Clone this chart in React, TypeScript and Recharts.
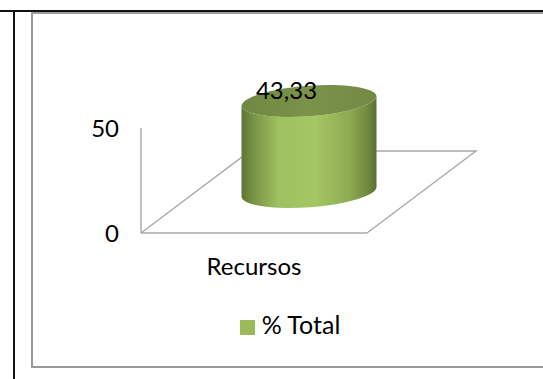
import { Bar, BarChart, LabelList, Legend, usePlotArea, XAxis, YAxis } from 'recharts'

const categories = ['Recursos']
const totals = [43.33]
const yTicks = [0, 50]
const seriesName = '% Total'

const chartData = categories.map((name, i) => ({ name, total: totals[i] }))

const FONT = 'Lato, "Open Sans", sans-serif'
const AXIS_GREY = '#a8a8a8'

// floor of the fake 3D box, measured from the front edge
const DEPTH_X = 109
const DEPTH_Y = 82

// the cylinder stands in the middle of the floor, its caps tilted slightly
const TILT_DEG = -4.2
const CAP_RX = 67.7
const CAP_RY = 15.6
const CAP_LIFT = 5

function Floor() {
  const plot = usePlotArea()
  if (!plot) return null
  const left = plot.x
  const right = plot.x + plot.width
  const base = plot.y + plot.height
  const back = base - DEPTH_Y
  const points = [
    [left, base],
    [left + DEPTH_X, back],
    [right + DEPTH_X, back],
    [right, base],
  ]
  return (
    <polyline
      points={points.map((p) => p.join(',')).join(' ')}
      fill="none"
      stroke={AXIS_GREY}
      strokeWidth={1.4}
    />
  )
}

function Cylinder({ x, y, width, height }: any) {
  const cx = x + width / 2 + DEPTH_X / 2
  const top = y - DEPTH_Y / 2
  const bottom = top + height
  const l = cx - width / 2
  const r = cx + width / 2
  const arc = `A ${CAP_RX} ${CAP_RY} ${TILT_DEG}`
  const side = [
    `M ${l} ${top + CAP_LIFT}`,
    `L ${l} ${bottom + CAP_LIFT}`,
    `${arc} 0 0 ${r} ${bottom - CAP_LIFT}`,
    `L ${r} ${top - CAP_LIFT}`,
    `${arc} 0 1 ${l} ${top + CAP_LIFT}`,
    'Z',
  ].join(' ')
  const cap = [
    `M ${l} ${top + CAP_LIFT}`,
    `${arc} 0 1 ${r} ${top - CAP_LIFT}`,
    `${arc} 0 1 ${l} ${top + CAP_LIFT}`,
    'Z',
  ].join(' ')
  return (
    <g>
      <defs>
        <linearGradient id="cylSide" x1="0" y1="0" x2="1" y2="0">
          <stop offset="0%" stopColor="#5e7436" />
          <stop offset="10%" stopColor="#7c9747" />
          <stop offset="28%" stopColor="#a0c160" />
          <stop offset="55%" stopColor="#a5c663" />
          <stop offset="80%" stopColor="#8dab51" />
          <stop offset="93%" stopColor="#72893f" />
          <stop offset="100%" stopColor="#5a6f34" />
        </linearGradient>
        <linearGradient id="cylCap" x1="0" y1="0" x2="1" y2="0">
          <stop offset="0%" stopColor="#708742" />
          <stop offset="50%" stopColor="#7b9249" />
          <stop offset="100%" stopColor="#748a44" />
        </linearGradient>
      </defs>
      <path d={side} fill="url(#cylSide)" />
      <path d={cap} fill="url(#cylCap)" />
    </g>
  )
}

function ValueLabel({ x, y, width, value }: any) {
  return (
    <text
      x={x + width / 2 + 32}
      y={y - DEPTH_Y / 2 - 2}
      textAnchor="middle"
      fontFamily={FONT}
      fontSize={24}
      fill="#000"
    >
      {String(value).replace('.', ',')}
    </text>
  )
}

export default function App() {
  return (
    <div style={{ position: 'absolute', left: 0, top: 0, width: 543, height: 379, overflow: 'hidden', background: '#fff' }}>
      {/* surrounding table rules and the chart's own frame */}
      <div style={{ position: 'absolute', left: 0, top: 10, width: 543, height: 2, background: '#111' }} />
      <div style={{ position: 'absolute', left: 13, top: 11, width: 2, height: 368, background: '#111' }} />
      <div style={{ position: 'absolute', left: 31, top: 12, width: 540, height: 356, boxSizing: 'border-box', border: '2px solid #9a9a9a' }} />
      <BarChart
        width={543}
        height={379}
        data={chartData}
        barSize={135}
        margin={{ top: 128, right: 176, bottom: 66, left: 81 }}
        style={{ position: 'absolute', left: 0, top: 0, fontFamily: FONT }}
      >
        <Floor />
        <XAxis
          dataKey="name"
          height={50}
          tickLine={false}
          tickMargin={19}
          stroke={AXIS_GREY}
          strokeWidth={1.4}
          tick={{ fill: '#000', fontSize: 24 }}
        />
        <YAxis
          width={60}
          domain={[0, 50]}
          ticks={yTicks}
          tickLine={false}
          tickMargin={16}
          stroke={AXIS_GREY}
          strokeWidth={1.4}
          tick={{ fill: '#000', fontSize: 24 }}
        />
        <Bar dataKey="total" name={seriesName} fill="#9bbb59" shape={Cylinder} isAnimationActive={false}>
          <LabelList dataKey="total" content={ValueLabel} />
        </Bar>
        <Legend
          iconType="square"
          iconSize={15}
          wrapperStyle={{ position: 'absolute', left: 230, top: 309, width: 130, fontSize: 25 }}
          formatter={(v) => <span style={{ color: '#000', marginLeft: 3 }}>{v}</span>}
        />
      </BarChart>
    </div>
  )
}
